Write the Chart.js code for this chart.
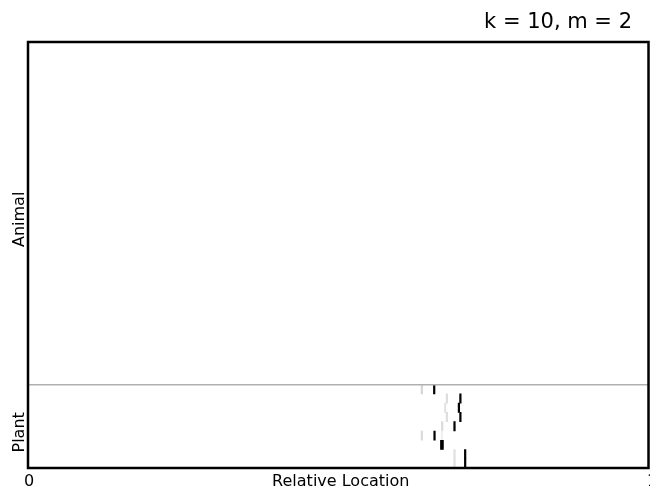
<!DOCTYPE html>
<html>
<head>
<meta charset="utf-8">
<script src="https://cdn.jsdelivr.net/npm/chart.js@4/dist/chart.umd.min.js"></script>
<style>
  html, body { margin: 0; padding: 0; background: #fff; }
  #wrap { position: relative; width: 650px; height: 489px; }
</style>
</head>
<body>
<div id="wrap"><canvas id="c"></canvas></div>
<script>
// Row groups, listed bottom to top, with the number of sequence rows in each
const groupNames = ['Plant', 'Animal'];
const groupRows = [9, 37];

// Axis text
const xTickValues = [0, 1];
const xTickLabels = ['0', '1'];
const xAxisTitle = 'Relative Location';
const chartTitle = 'k = 10, m = 2';

// Motif hits: row (0 = bottom row), relative location of the bin start, signal (0..1)
const hitRow   = [8,      8,      7,      7,      6,      6,      5,      5,      4,      4,      3,      3,      3,      2,      2,      1,      1,      0,      0];
const hitPos   = [0.6335, 0.6534, 0.6738, 0.6956, 0.6711, 0.6932, 0.6738, 0.6956, 0.6663, 0.6861, 0.6335, 0.6539, 0.6658, 0.6647, 0.6670, 0.6861, 0.7033, 0.6861, 0.7033];
const hitValue = [0.16,   1.0,    0.13,   1.0,    0.11,   1.0,    0.13,   1.0,    0.14,   1.0,    0.14,   1.0,    0.06,   1.0,    1.0,    0.12,   1.0,    0.12,   1.0];
const binWidth = 0.0025;

const totalRows = groupRows.reduce((a, b) => a + b, 0);

function greyFor(v) {
  const g = Math.round(255 * (1 - v));
  return `rgb(${g},${g},${g})`;
}

const FONT = '"DejaVu Sans", Verdana, sans-serif';

// Frame, group divider, labels and title
const decorations = {
  id: 'decorations',
  afterDatasetsDraw(chart) {
    const { ctx, chartArea: a, scales: { x, y } } = chart;
    ctx.save();
    // divider between groups
    let acc = 0;
    for (let g = 0; g < groupRows.length - 1; g++) {
      acc += groupRows[g];
      const py = y.getPixelForValue(acc);
      ctx.strokeStyle = '#b0b0b0';
      ctx.lineWidth = 1.5;
      ctx.beginPath();
      ctx.moveTo(a.left, py);
      ctx.lineTo(a.right, py);
      ctx.stroke();
    }
    // frame
    ctx.strokeStyle = '#000';
    ctx.lineWidth = 2.5;
    ctx.strokeRect(a.left, a.top, a.right - a.left, a.bottom - a.top);

    // group labels (rotated)
    ctx.fillStyle = '#000';
    ctx.font = `16px ${FONT}`;
    ctx.textAlign = 'center';
    ctx.textBaseline = 'alphabetic';
    acc = 0;
    groupNames.forEach((name, g) => {
      const mid = y.getPixelForValue(acc + groupRows[g] / 2) + 6;
      acc += groupRows[g];
      ctx.save();
      ctx.translate(a.left - 4, mid);
      ctx.rotate(-Math.PI / 2);
      ctx.fillText(name, 0, 0);
      ctx.restore();
    });

    // x tick labels
    xTickValues.forEach((v, i) => {
      const px = x.getPixelForValue(v) + (v === 1 ? 3.5 : 1);
      ctx.fillText(xTickLabels[i], px, a.bottom + 18);
    });
    // x axis title
    ctx.fillText(xAxisTitle, (a.left + a.right) / 2 + 2.5, a.bottom + 17.5);

    // title
    ctx.font = `21px ${FONT}`;
    ctx.textAlign = 'right';
    ctx.fillText(chartTitle, a.right - 16.5, 28);
    ctx.restore();
  }
};

new Chart(document.getElementById('c'), {
  type: 'bar',
  data: {
    datasets: [{
      data: hitRow.map((r, i) => ({ y: r + 0.5, x: [hitPos[i], hitPos[i] + binWidth] })),
      backgroundColor: (c) => greyFor(hitValue[c.dataIndex]),
      borderWidth: 0,
      categoryPercentage: 1,
      barPercentage: 1
    }]
  },
  options: {
    indexAxis: 'y',
    responsive: true,
    maintainAspectRatio: false,
    animation: false,
    layout: { padding: { left: 28, top: 42, right: 1.5, bottom: 21 } },
    plugins: { legend: { display: false }, tooltip: { enabled: false } },
    scales: {
      x: { type: 'linear', min: 0, max: 1, offset: false, display: false },
      y: { type: 'linear', min: 0, max: totalRows, offset: false, display: false }
    }
  },
  plugins: [decorations]
});
</script>
</body>
</html>
